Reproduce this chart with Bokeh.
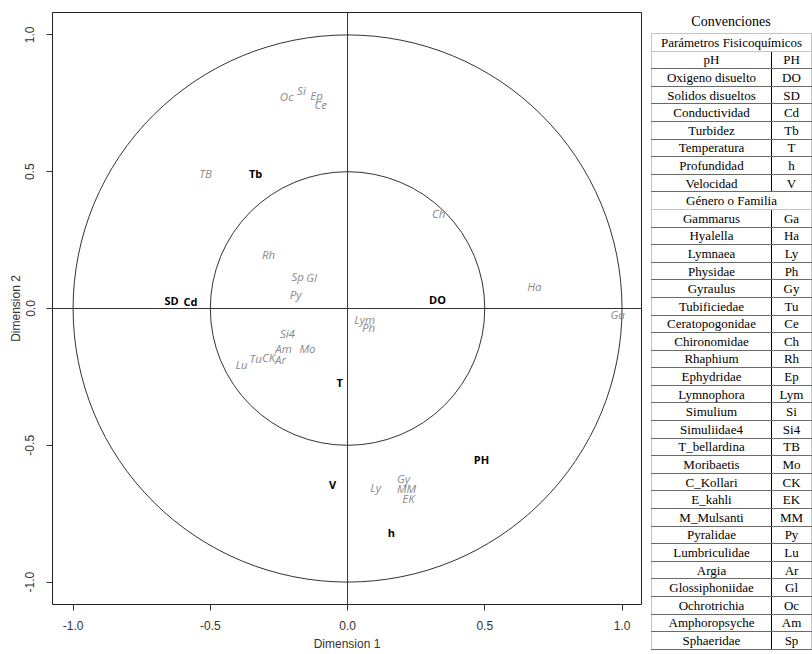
from bokeh.plotting import figure
from bokeh.models import Range1d, Span, FixedTicker, PrintfTickFormatter, ColumnDataSource, Div
from bokeh.layouts import row
from bokeh.embed import file_html
from bokeh.resources import INLINE
from bokeh.core.properties import value

# ---------------- data ----------------
bio_labels = ["Oc", "Si", "Ep", "Ce", "TB", "Ch", "Rh", "Sp", "Gl", "Py", "Ha", "Ga",
              "Lym", "Ph", "Si4", "Am", "Mo", "Lu", "Tu", "CK", "Ar", "Ly", "Gy", "MM", "EK"]
bio_x = [-0.222, -0.168, -0.113, -0.098, -0.517, 0.332, -0.288, -0.182, -0.131, -0.189, 0.681, 0.984,
         0.062, 0.077, -0.219, -0.233, -0.146, -0.386, -0.335, -0.288, -0.244, 0.102, 0.204, 0.215, 0.222]
bio_y = [0.775, 0.797, 0.779, 0.746, 0.494, 0.347, 0.197, 0.117, 0.113, 0.051, 0.080, -0.022,
         -0.040, -0.069, -0.091, -0.146, -0.146, -0.205, -0.183, -0.179, -0.186, -0.654, -0.622, -0.658, -0.695]

env_labels = ["Tb", "SD", "Cd", "DO", "T", "PH", "V", "h"]
env_x = [-0.335, -0.641, -0.572, 0.328, -0.029, 0.488, -0.055, 0.160]
env_y = [0.494, 0.029, 0.026, 0.033, -0.271, -0.552, -0.643, -0.819]

circle_radii = [1.0, 0.5]
ticks = [-1.0, -0.5, 0.0, 0.5, 1.0]

table_title = "Convenciones"
param_header = "Parámetros Fisicoquímicos"
param_names = ["pH", "Oxigeno disuelto", "Solidos disueltos", "Conductividad",
               "Turbidez", "Temperatura", "Profundidad", "Velocidad"]
param_codes = ["PH", "DO", "SD", "Cd", "Tb", "T", "h", "V"]
genus_header = "Género o Familia"
genus_names = ["Gammarus", "Hyalella", "Lymnaea", "Physidae", "Gyraulus", "Tubificiedae",
               "Ceratopogonidae", "Chironomidae", "Rhaphium", "Ephydridae", "Lymnophora",
               "Simulium", "Simuliidae4", "T_bellardina", "Moribaetis", "C_Kollari", "E_kahli",
               "M_Mulsanti", "Pyralidae", "Lumbriculidae", "Argia", "Glossiphoniidae",
               "Ochrotrichia", "Amphoropsyche", "Sphaeridae"]
genus_codes = ["Ga", "Ha", "Ly", "Ph", "Gy", "Tu", "Ce", "Ch", "Rh", "Ep", "Lym", "Si", "Si4",
               "TB", "Mo", "CK", "EK", "MM", "Py", "Lu", "Ar", "Gl", "Oc", "Am", "Sp"]

# ---------------- main plot ----------------
p = figure(frame_width=589, frame_height=592,
           x_range=Range1d(-1.075, 1.071), y_range=Range1d(-1.082, 1.082),
           output_backend="svg", toolbar_location=None,
           min_border_left=52, min_border_right=9, min_border_top=12, min_border_bottom=0)
p.background_fill_color = "white"
p.border_fill_color = "white"
p.grid.visible = False
p.outline_line_color = "#222222"
p.outline_line_width = 1

for ax in (p.xaxis[0], p.yaxis[0]):
    ax.ticker = FixedTicker(ticks=ticks)
    ax.formatter = PrintfTickFormatter(format="%.1f")
    ax.axis_line_color = None
    ax.major_tick_out = 6
    ax.major_tick_in = 0
    ax.minor_tick_line_color = None
    ax.major_tick_line_color = "#333333"
    ax.major_label_text_font = "Liberation Sans"
    ax.major_label_text_font_size = "12px"
    ax.major_label_text_color = "#333333"
    ax.axis_label_text_font = "Liberation Sans"
    ax.axis_label_text_font_size = "12px"
    ax.axis_label_text_font_style = "normal"
    ax.axis_label_text_color = "#333333"

p.xaxis.axis_label = "Dimension 1"
p.yaxis.axis_label = "Dimension 2"
p.xaxis.major_label_standoff = 10
p.xaxis.axis_label_standoff = 4
p.yaxis.major_label_orientation = "vertical"
p.yaxis.major_label_standoff = 12
p.yaxis.axis_label_standoff = 0

for r in circle_radii:
    p.ellipse(x=0, y=0, width=2 * r, height=2 * r, fill_color=None,
              line_color="#333333", line_width=1)

p.add_layout(Span(location=0, dimension="width", line_color="#333333", line_width=1))
p.add_layout(Span(location=0, dimension="height", line_color="#333333", line_width=1))

bio_src = ColumnDataSource(dict(x=bio_x, y=bio_y, t=bio_labels))
p.text(x="x", y="y", text="t", source=bio_src, text_font=value("Open Sans"),
       text_font_size="11.5px", text_font_style="italic", text_color="#8a8a8a",
       text_align="center", text_baseline="middle")

env_src = ColumnDataSource(dict(x=env_x, y=env_y, t=env_labels))
p.text(x="x", y="y", text="t", source=env_src, text_font=value("Open Sans"),
       text_font_size="11px", text_font_style="bold", text_color="black",
       text_align="center", text_baseline="middle")

# ---------------- conventions table (HTML) ----------------
ROW_H = 17.6
light = "#c4c4c4"
dark = "#6a6a6a"


def header_row(text):
    return (f'<tr style="height:{ROW_H}px"><td colspan="2" style="border:1px solid {light};'
            f'padding:0;text-align:center;line-height:15px;white-space:nowrap;">{text}</td></tr>')


def data_row(a, b):
    return (f'<tr style="height:{ROW_H}px">'
            f'<td style="border-top:1px solid {dark};border-bottom:1px solid {dark};'
            f'border-left:1px solid {light};border-right:1px solid #000;padding:0;'
            f'text-align:center;line-height:15px;white-space:nowrap;">{a}</td>'
            f'<td style="border-top:1px solid {dark};border-bottom:1px solid {dark};'
            f'border-right:1px solid {light};padding:0;text-align:center;line-height:15px;">{b}</td></tr>')


rows_html = [header_row(param_header)]
rows_html += [data_row(a, b) for a, b in zip(param_names, param_codes)]
rows_html += [header_row(genus_header)]
rows_html += [data_row(a, b) for a, b in zip(genus_names, genus_codes)]

html = (
    '<div style="font-family:\'Liberation Serif\',serif;font-size:13px;color:#000;width:160px;'
    'margin-left:-4px;margin-top:-3px;">'
    '<div style="box-sizing:border-box;height:31px;padding-top:9px;line-height:22px;'
    f'text-align:center;font-size:14px;overflow:hidden;">{table_title}</div>'
    '<table style="border-collapse:collapse;width:160px;table-layout:fixed;margin:0;">'
    '<colgroup><col style="width:120px"><col style="width:40px"></colgroup>'
    + "".join(rows_html) +
    '</table></div>'
)

t = Div(text=html, width=160, height=644)

layout = row(p, t, spacing=0)
open("out.html", "w").write(file_html(layout, INLINE))
